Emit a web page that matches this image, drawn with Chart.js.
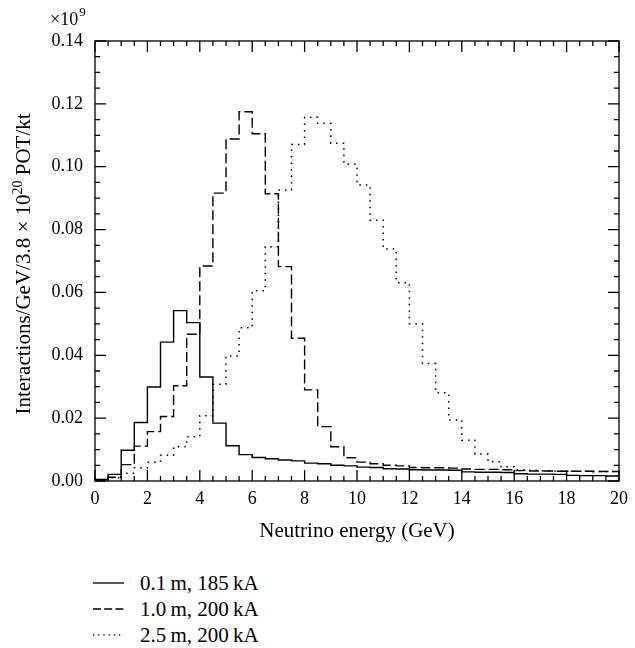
<!DOCTYPE html>
<html>
<head>
<meta charset="utf-8">
<script src="https://cdn.jsdelivr.net/npm/chart.js@4/dist/chart.umd.min.js"></script>
<style>
  body { margin: 0; background: #fff; }
  #wrap { position: relative; width: 635px; height: 648px; }
  #chart { position: absolute; left: 0; top: 0; }
  #legend { position: absolute; left: 93px; top: 570px; font-family: "Liberation Serif", serif; font-size: 21px; color: #000; }
  .leg-row { height: 26px; line-height: 26px; display: flex; align-items: center; }
  .leg-row svg { width: 31px; height: 26px; margin-right: 16px; }
</style>
</head>
<body>
<div id="wrap">
  <canvas id="chart" width="635" height="552"></canvas>
  <div id="legend"></div>
</div>
<script>
// bordas dos bins (GeV)
const binEdges = [0, 0.5, 1, 1.5, 2, 2.5, 3, 3.5, 4, 4.5, 5, 5.5, 6, 6.5, 7, 7.5, 8, 8.5, 9, 9.5,
                  10, 10.5, 11, 11.5, 12, 12.5, 13, 13.5, 14, 14.5, 15, 15.5, 16, 16.5, 17, 17.5, 18, 18.5, 19, 19.5, 20];

const seriesLabels = ['0.1\u2009m, 185\u2009kA', '1.0\u2009m, 200\u2009kA', '2.5\u2009m, 200\u2009kA'];

// interações (x10^9) por bin
const horn01m185 = [0.0005, 0.0021, 0.0098, 0.0186, 0.0299, 0.0442, 0.0542, 0.0504, 0.0331, 0.0184,
                    0.0112, 0.0084, 0.0075, 0.0071, 0.0067, 0.0064, 0.0057, 0.0055, 0.0050, 0.0048,
                    0.0044, 0.0043, 0.0039, 0.0038, 0.0036, 0.0035, 0.0035, 0.0034, 0.0029, 0.0028,
                    0.0028, 0.0027, 0.0023, 0.0022, 0.0022, 0.0021, 0.0018, 0.0017, 0.0017, 0.0016];
const horn10m200 = [0.0002, 0.0012, 0.0052, 0.0111, 0.0157, 0.0205, 0.0303, 0.0467, 0.0684, 0.0916,
                    0.1088, 0.1175, 0.1105, 0.0914, 0.0682, 0.0454, 0.0290, 0.0173, 0.0109, 0.0074,
                    0.0060, 0.0055, 0.0050, 0.0048, 0.0043, 0.0042, 0.0042, 0.0041, 0.0038, 0.0037,
                    0.0037, 0.0036, 0.0033, 0.0032, 0.0032, 0.0031, 0.0031, 0.0031, 0.0030, 0.0030];
const horn25m200 = [0.0000, 0.0010, 0.0025, 0.0042, 0.0060, 0.0082, 0.0109, 0.0141, 0.0208, 0.0308,
                    0.0398, 0.0488, 0.0605, 0.0745, 0.0926, 0.1071, 0.1157, 0.1138, 0.1075, 0.1008,
                    0.0942, 0.0830, 0.0738, 0.0631, 0.0500, 0.0374, 0.0281, 0.0194, 0.0130, 0.0086,
                    0.0061, 0.0045, 0.0036, 0.0034, 0.0033, 0.0032, 0.0031, 0.0031, 0.0030, 0.0030];

const lineDashes = [[], [10, 4], [1.5, 5]];

const xTickStep = 2;
const yTickStep = 0.02;

const serif = '"Liberation Serif", "Times New Roman", serif';

function histPoints(values) {
    const pts = values.map((v, i) => ({ x: binEdges[i], y: v }));
    pts.push({ x: binEdges[values.length], y: values[values.length - 1] });
    return pts;
}

/* --- moldura, ticks para dentro, título do eixo y e multiplicador --- */
const frameTicks = {
    id: 'frameTicks',
    afterDatasetsDraw(chart) {
        const { ctx, chartArea: a, scales: { x, y } } = chart;
        ctx.save();
        ctx.strokeStyle = '#000';
        ctx.lineWidth = 1.3;
        ctx.strokeRect(a.left, a.top, a.right - a.left, a.bottom - a.top);
        ctx.beginPath();
        for (let i = 0; i <= 40; i++) {
            const px = x.getPixelForValue(i * 0.5);
            const len = i % 4 === 0 ? 11 : 5;
            ctx.moveTo(px, a.bottom); ctx.lineTo(px, a.bottom - len);
            ctx.moveTo(px, a.top); ctx.lineTo(px, a.top + len);
        }
        for (let j = 0; j <= 28; j++) {
            const py = y.getPixelForValue(j * 0.005);
            const len = j % 4 === 0 ? 11 : 5;
            ctx.moveTo(a.left, py); ctx.lineTo(a.left + len, py);
            ctx.moveTo(a.right, py); ctx.lineTo(a.right - len, py);
        }
        ctx.stroke();

        ctx.fillStyle = '#000';
        ctx.textBaseline = 'alphabetic';

        // multiplicador do eixo y
        ctx.font = '18px ' + serif;
        ctx.fillText('\u00d710', 50, 25);
        const w = ctx.measureText('\u00d710').width;
        ctx.font = '13px ' + serif;
        ctx.fillText('9', 50 + w + 1, 16);

        // título do eixo y, com expoente
        const parts = [['Interactions/GeV/3.8 \u00d7 10', 21, 0], ['20', 14, -8], [' POT/kt', 21, 0]];
        let total = 0;
        parts.forEach(p => { ctx.font = p[1] + 'px ' + serif; total += ctx.measureText(p[0]).width; });
        ctx.translate(30, 264);
        ctx.rotate(-Math.PI / 2);
        let cx = -total / 2;
        parts.forEach(p => {
            ctx.font = p[1] + 'px ' + serif;
            ctx.fillText(p[0], cx, p[2]);
            cx += ctx.measureText(p[0]).width;
        });
        ctx.restore();
    }
};

const chart = new Chart(document.getElementById('chart').getContext('2d'), {
    type: 'line',
    data: {
        datasets: [horn01m185, horn10m200, horn25m200].map((vals, k) => ({
            label: seriesLabels[k],
            data: histPoints(vals),
            borderColor: '#000',
            borderWidth: k === 2 ? 1.5 : 1.4,
            borderDash: lineDashes[k],
            stepped: 'before',
            pointRadius: 0,
            fill: false
        }))
    },
    options: {
        responsive: false,
        animation: false,
        layout: { padding: { top: 41, right: 11, left: 0, bottom: 0 } },
        plugins: { legend: { display: false }, tooltip: { enabled: false } },
        scales: {
            x: {
                type: 'linear', min: 0, max: 20,
                grid: { display: false, drawTicks: false },
                border: { display: false },
                ticks: { stepSize: xTickStep, color: '#000', padding: 7, maxRotation: 0, font: { family: serif, size: 18 } },
                title: { display: true, text: 'Neutrino energy (GeV)', color: '#000', font: { family: serif, size: 21 }, padding: { top: 0, bottom: 8 } },
                afterFit: (s) => { s.height = 71; }
            },
            y: {
                type: 'linear', min: 0, max: 0.14,
                grid: { display: false, drawTicks: false },
                border: { display: false },
                ticks: { stepSize: yTickStep, color: '#000', padding: 12, font: { family: serif, size: 18 },
                         callback: (v) => v.toFixed(2) },
                afterFit: (s) => { s.width = 95; }
            }
        }
    },
    plugins: [frameTicks]
});

/* --- legenda em HTML --- */
const legendEl = document.getElementById('legend');
seriesLabels.forEach((label, k) => {
    const row = document.createElement('div');
    row.className = 'leg-row';
    const dash = lineDashes[k].length ? lineDashes[k].map(d => d * 0.8).join(',') : 'none';
    row.innerHTML = `<svg viewBox="0 0 31 26"><line x1="0" y1="13" x2="31" y2="13" stroke="#000" stroke-width="1.3" stroke-dasharray="${dash}"/></svg><span>${label}</span>`;
    legendEl.appendChild(row);
});
</script>
</body>
</html>
